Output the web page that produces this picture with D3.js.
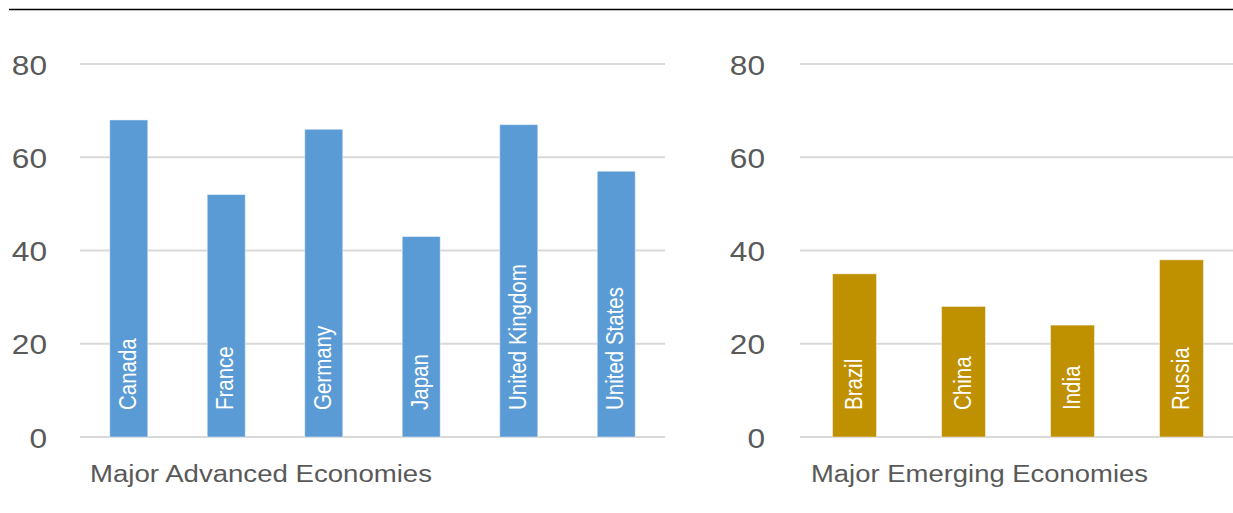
<!DOCTYPE html>
<html>
<head>
<meta charset="utf-8">
<script src="https://cdn.jsdelivr.net/npm/d3@7"></script>
<style>
  html, body { margin: 0; padding: 0; background: #fff; }
  svg { display: block; }
</style>
</head>
<body>
<svg id="chart" width="1233" height="513"></svg>
<script>
// ---- Data ----
const advancedCategories = ["Canada", "France", "Germany", "Japan", "United Kingdom", "United States"];
const advancedValues = [68, 52, 66, 43, 67, 57];
const emergingCategories = ["Brazil", "China", "India", "Russia"];
const emergingValues = [35, 28, 24, 38];
const yTicks = [0, 20, 40, 60, 80];
const panelTitles = ["Major Advanced Economies", "Major Emerging Economies"];

// ---- Drawing ----
const svg = d3.select("#chart");
const W = 1233, H = 513;
const FONT = "'Liberation Sans', Arial, sans-serif";
const stretch = 1.13;

// top rule
svg.append("line")
  .attr("x1", 9).attr("x2", W).attr("y1", 9.5).attr("y2", 9.5)
  .attr("stroke", "#000").attr("stroke-width", 1.5);

const y = d3.scaleLinear().domain([0, 80]).range([437, 64]);

function panel(cfg) {
  const g = svg.append("g");
  const x = d3.scaleBand()
    .domain(cfg.categories)
    .range([cfg.x0, cfg.x1])
    .paddingInner(cfg.pad)
    .paddingOuter(cfg.pad / 2);

  // gridlines
  g.selectAll("line.grid").data(yTicks).enter().append("line")
    .attr("class", "grid")
    .attr("x1", cfg.x0).attr("x2", cfg.gridEnd)
    .attr("y1", d => y(d)).attr("y2", d => y(d))
    .attr("stroke", "#d9d9d9").attr("stroke-width", 2);

  // tick labels (right aligned)
  g.selectAll("text.tick").data(yTicks).enter().append("text")
    .attr("class", "tick")
    .attr("transform", d => `translate(${cfg.labelX},${y(d) + 10.5}) scale(${stretch},1)`)
    .attr("text-anchor", "end")
    .attr("font-family", FONT)
    .attr("font-size", 28)
    .attr("fill", "#595959")
    .text(d => d);

  // bars
  g.selectAll("rect.bar").data(cfg.values).enter().append("rect")
    .attr("class", "bar")
    .attr("x", (d, i) => x(cfg.categories[i]))
    .attr("width", x.bandwidth())
    .attr("y", d => y(d))
    .attr("height", d => y(0) - y(d))
    .attr("fill", cfg.color)
    .attr("stroke", "rgba(255,255,255,0.45)")
    .attr("stroke-width", 1);

  // in-bar labels (rotated)
  g.selectAll("text.cat").data(cfg.categories).enter().append("text")
    .attr("class", "cat")
    .attr("transform", d => `translate(${x(d) + x.bandwidth() / 2 + 7},${y(0) - 27}) rotate(-90) scale(1,${stretch})`)
    .attr("text-anchor", "start")
    .attr("font-family", FONT)
    .attr("font-size", 20.5)
    .attr("fill", "#ffffff")
    .text(d => d);

  // panel title
  g.append("text")
    .attr("x", cfg.titleX).attr("y", 482)
    .attr("font-family", FONT)
    .attr("font-size", 23.5)
    .attr("fill", "#595959")
    .attr("textLength", cfg.titleLen)
    .attr("lengthAdjust", "spacingAndGlyphs")
    .text(cfg.title);
}

panel({
  categories: advancedCategories, values: advancedValues,
  x0: 80, x1: 665, gridEnd: 665, pad: 0.61, labelX: 47,
  color: "#5b9bd5", title: panelTitles[0], titleX: 90, titleLen: 342
});

panel({
  categories: emergingCategories, values: emergingValues,
  x0: 800, x1: 1236, gridEnd: 1236, pad: 0.597, labelX: 765,
  color: "#bf9000", title: panelTitles[1], titleX: 811, titleLen: 337
});
</script>
</body>
</html>
